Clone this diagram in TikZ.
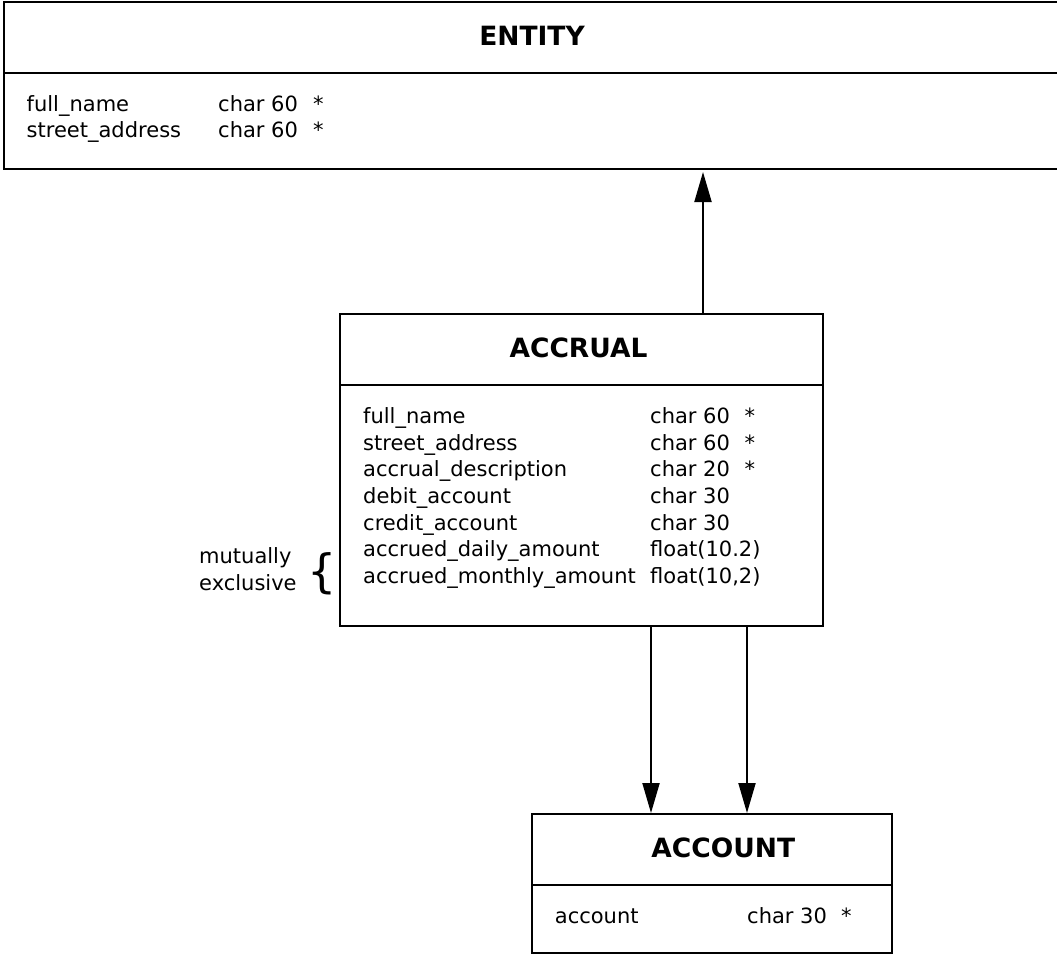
\documentclass[tikz,border=0pt]{standalone}
\usepackage{fontspec}
\setmainfont{DejaVu Sans}
\usetikzlibrary{arrows.meta}
\tikzset{
  tbl/.style={draw=black, line width=2pt, rectangle, inner sep=0pt, anchor=north west},
  rule/.style={line width=2pt},
  ttl/.style={inner sep=0pt, anchor=base, font=\bfseries\fontsize{26.5}{30}\selectfont},
  fld/.style={inner sep=0pt, anchor=base west, font=\fontsize{21}{26}\selectfont},
  conn/.style={line width=2pt, -{Triangle[length=30pt,width=17pt]}},
  brc/.style={inner sep=0pt, anchor=center, font=\fontsize{46}{50}\selectfont},
}
\begin{document}
\begin{tikzpicture}[x=1pt,y=-1pt]
\useasboundingbox (0,0) rectangle (1057,954);
% ENTITY
\node[tbl, minimum width=1060pt, minimum height=167pt] (entity) at (3,1) {};
\draw[rule] (3,72.7) -- (1063,72.7);
\node[ttl] (entityt) at (532,45) {ENTITY};
\node[fld] (ef1) at (26.5,111.7) {full\_name};
\node[fld] (ef2) at (26.5,137.7) {street\_address};
\node[fld] (et1) at (218,111.7) {char 60};
\node[fld] (et2) at (218,137.7) {char 60};
\node[fld] (es1) at (313,111.7) {*};
\node[fld] (es2) at (313,137.7) {*};
% ACCRUAL
\node[tbl, minimum width=483pt, minimum height=312pt] (accrual) at (339,313.3) {};
\draw[rule] (339,385) -- (822,385);
\node[ttl] (accrualt) at (578.5,357.7) {ACCRUAL};
\node[fld] (af1) at (363,423.3) {full\_name};
\node[fld] (af2) at (363,450) {street\_address};
\node[fld] (af3) at (363,476.7) {accrual\_description};
\node[fld] (af4) at (363,503.3) {debit\_account};
\node[fld] (af5) at (363,530) {credit\_account};
\node[fld] (af6) at (363,556.7) {accrued\_daily\_amount};
\node[fld] (af7) at (363,583.3) {accrued\_monthly\_amount};
\node[fld] (at1) at (650,423.3) {char 60};
\node[fld] (at2) at (650,450) {char 60};
\node[fld] (at3) at (650,476.7) {char 20};
\node[fld] (at4) at (650,503.3) {char 30};
\node[fld] (at5) at (650,530) {char 30};
\node[fld] (at6) at (650,556.7) {float(10.2)};
\node[fld] (at7) at (650,583.3) {float(10,2)};
\node[fld] (as1) at (744.5,423.3) {*};
\node[fld] (as2) at (744.5,450) {*};
\node[fld] (as3) at (744.5,476.7) {*};
% note
\node[fld] (m1) at (199,563) {mutually};
\node[fld] (m2) at (199,590) {exclusive};
\node[brc] (brace) at (322.5,573.5) {\{};
% ACCOUNT
\node[tbl, minimum width=360pt, minimum height=138.7pt] (account) at (531,813) {};
\draw[rule] (531,885) -- (891,885);
\node[ttl] (accountt) at (723.3,857) {ACCOUNT};
\node[fld] (cf1) at (554.7,923.3) {account};
\node[fld] (ct1) at (747,923.3) {char 30};
\node[fld] (cs1) at (841,923.3) {*};
% connectors
\coordinate (x1) at (703,0);
\coordinate (x2) at (651,0);
\coordinate (x3) at (747,0);
\draw[conn, shorten >=2pt] (accrual.north -| x1) -- (entity.south -| x1);
\draw[conn] (accrual.south -| x2) -- (account.north -| x2);
\draw[conn] (accrual.south -| x3) -- (account.north -| x3);
\end{tikzpicture}
\end{document}
